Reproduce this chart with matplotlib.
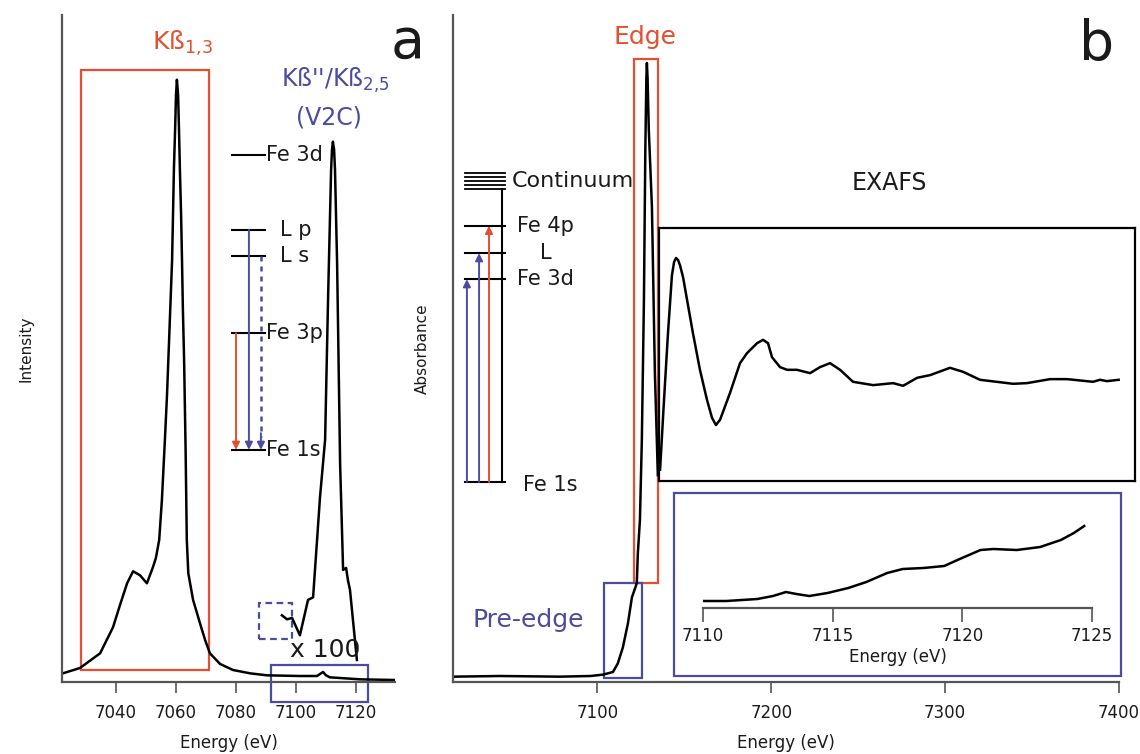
import numpy as np
import matplotlib.pyplot as plt
from matplotlib.patches import Rectangle

RED = '#e4502f'
BLUE = '#4b4b9f'
GREY = '#555555'
INK = '#1a1a1a'

# ---- panel a : K-beta emission (full scale) ----
kb_energy = [7022.3, 7028.0, 7034.7, 7039.0, 7041.3, 7043.7, 7045.7, 7048.0, 7050.3,
             7052.3, 7053.3, 7054.4, 7055.3, 7056.3, 7057.0, 7057.7, 7058.2, 7058.7,
             7059.0, 7059.3, 7059.7, 7060.0, 7060.3, 7060.7, 7061.0, 7061.3, 7061.7,
             7062.0, 7062.3, 7062.7, 7063.2, 7063.6, 7064.1, 7065.7, 7068.0, 7069.7,
             7071.3, 7074.7, 7079.0, 7084.7, 7090.3, 7101.3, 7107.0, 7108.0, 7109.0,
             7110.0, 7111.3, 7121.3, 7133.0]
kb_intensity = [0.013, 0.021, 0.043, 0.082, 0.115, 0.148, 0.166, 0.160, 0.148,
                0.172, 0.186, 0.213, 0.273, 0.363, 0.430, 0.513, 0.573, 0.633,
                0.700, 0.768, 0.828, 0.880, 0.903, 0.880, 0.828, 0.768, 0.700,
                0.633, 0.558, 0.483, 0.348, 0.213, 0.163, 0.123, 0.088, 0.063,
                0.043, 0.027, 0.018, 0.013, 0.010, 0.009, 0.009, 0.012, 0.015,
                0.010, 0.007, 0.004, 0.003]

# valence-to-core region, x 100
v2c_energy = [7095.3, 7097.0, 7098.7, 7101.3, 7104.0, 7105.7, 7108.0, 7109.7, 7110.7,
              7111.7, 7112.0, 7112.3, 7112.7, 7113.0, 7113.7, 7114.7, 7115.7, 7116.7,
              7117.3, 7118.0, 7120.3]
v2c_intensity = [0.100, 0.094, 0.096, 0.070, 0.123, 0.127, 0.277, 0.363, 0.577,
                 0.768, 0.798, 0.810, 0.798, 0.768, 0.628, 0.328, 0.168, 0.171,
                 0.153, 0.138, 0.033]

# level diagram (emission)
xes_levels = ['Fe 3d', 'L p', 'L s', 'Fe 3p', 'Fe 1s']
xes_level_y = [0.790, 0.678, 0.639, 0.523, 0.348]

# ---- panel b : Fe K-edge absorption ----
xas_energy = [7017.0, 7044.0, 7078.5, 7096.0, 7103.2, 7109.0, 7111.8, 7114.7, 7117.6,
              7119.9, 7122.7, 7123.3, 7124.5, 7125.6, 7126.8, 7127.6, 7128.2, 7128.5,
              7128.9, 7129.6, 7131.4, 7133.1, 7134.8]
xas_absorbance = [0.008, 0.009, 0.008, 0.009, 0.011, 0.015, 0.028, 0.052, 0.088,
                  0.127, 0.148, 0.193, 0.243, 0.363, 0.573, 0.798, 0.905, 0.928,
                  0.905, 0.828, 0.712, 0.463, 0.310]

exafs_energy = [7135.6, 7137.8, 7140.0, 7142.2, 7143.4, 7144.5, 7145.6, 7146.7, 7148.4,
                7153.9, 7157.8, 7161.7, 7164.5, 7166.7, 7169.0, 7174.5, 7180.1, 7184.0,
                7189.6, 7192.9, 7195.7, 7197.9, 7202.4, 7206.3, 7211.8, 7219.1, 7224.6,
                7230.2, 7235.8, 7243.0, 7254.2, 7265.3, 7270.9, 7278.7, 7285.9, 7297.0,
                7304.3, 7313.7, 7332.1, 7339.9, 7352.7, 7362.2, 7376.6, 7380.5, 7384.4,
                7390.9]
exafs_absorbance = [0.318, 0.423, 0.523, 0.610, 0.630, 0.636, 0.633, 0.625, 0.607,
                    0.523, 0.468, 0.423, 0.396, 0.385, 0.393, 0.433, 0.478, 0.493,
                    0.508, 0.513, 0.508, 0.487, 0.472, 0.468, 0.468, 0.463, 0.472,
                    0.478, 0.468, 0.450, 0.445, 0.448, 0.444, 0.456, 0.460, 0.471,
                    0.465, 0.453, 0.447, 0.448, 0.454, 0.454, 0.450, 0.453, 0.451,
                    0.453]

pre_energy = [7110.0, 7110.9, 7112.1, 7112.7, 7113.2, 7113.6, 7114.1, 7114.8, 7115.6,
              7116.3, 7117.1, 7117.7, 7118.5, 7119.3, 7119.9, 7120.7, 7121.2, 7122.1,
              7123.0, 7123.8, 7124.3, 7124.7]
pre_absorbance = [0.07, 0.07, 0.09, 0.12, 0.16, 0.14, 0.12, 0.15, 0.20,
                  0.26, 0.35, 0.39, 0.40, 0.42, 0.49, 0.58, 0.59, 0.58,
                  0.61, 0.68, 0.75, 0.82]

# level diagram (absorption)
xas_levels = ['Fe 4p', 'L', 'Fe 3d', 'Fe 1s']
xas_level_y = [0.684, 0.643, 0.604, 0.300]
continuum_y = [0.763, 0.757, 0.751, 0.745, 0.739]


def style_axis(ax):
    for s in ['top', 'right']:
        ax.spines[s].set_visible(False)
    for s in ['left', 'bottom']:
        ax.spines[s].set_color(GREY)
        ax.spines[s].set_linewidth(1.6)
    ax.set_yticks([])
    ax.tick_params(axis='x', direction='out', length=8, width=1.2, color=GREY,
                   labelsize=12, pad=8, labelcolor=INK)
    ax.set_facecolor('none')


def arrow(ax, x, y0, y1, color, ls='-'):
    # vertical transition arrow from y0 to y1
    if ls == '-':
        ax.annotate('', xy=(x, y1), xytext=(x, y0),
                    arrowprops=dict(arrowstyle='-|>', color=color, lw=1.4,
                                    mutation_scale=11, shrinkA=0, shrinkB=0))
    else:
        ax.plot([x, x], [y0, y1 + 0.02 * np.sign(y0 - y1)], color=color, lw=1.8, ls=ls)
        ax.annotate('', xy=(x, y1), xytext=(x, y1 + 0.025 * np.sign(y0 - y1)),
                    arrowprops=dict(arrowstyle='-|>', color=color, lw=1.4,
                                    mutation_scale=11, shrinkA=0, shrinkB=0))


fig = plt.figure(figsize=(11.4, 7.54), dpi=100)
plt.rcParams['font.family'] = ['DejaVu Sans']

# ================= panel a =================
ax1 = fig.add_axes([62/1140, 1-682/754, 333/1140, 667/754])
style_axis(ax1)
ax1.set_xlim(7022, 7133)
ax1.set_ylim(0, 1)
ax1.set_xticks([7040, 7060, 7080, 7100, 7120])
ax1.plot(kb_energy, kb_intensity, color='black', lw=1.8)
ax1.plot(v2c_energy, v2c_intensity, color='black', lw=1.8)

ax1.set_xlabel('Energy (eV)', fontsize=12, color=INK, va='top')
ax1.xaxis.set_label_coords(0.5, -0.078)
ax1.set_ylabel('Intensity', fontsize=11, color=INK)
ax1.yaxis.set_label_coords(-0.087, 0.5)

ax1.add_patch(Rectangle((7028.3, 0.018), 42.7, 0.900, fill=False, ec=RED, lw=1.6))
ax1.add_patch(Rectangle((7087.7, 0.064), 11.0, 0.054, fill=False, ec=BLUE, lw=1.6,
                        ls=(0, (3, 2))))
ax1.add_patch(Rectangle((7091.7, -0.030), 32.3, 0.0555, fill=False, ec=BLUE, lw=1.6,
                        clip_on=False))

ax1.text(7062, 0.9475, 'Kß$_{1{,}3}$', color=RED, fontsize=18, ha='center', va='baseline')
ax1.text(7113, 0.892, "Kß''/Kß$_{2{,}5}$", color=BLUE, fontsize=17, ha='center', va='baseline')
ax1.text(7111, 0.846, '(V2C)', color=BLUE, fontsize=17, ha='center', va='center')
ax1.text(7109.7, 0.0375, 'x 100', color=INK, fontsize=18, ha='center', va='baseline')

for name, y in zip(xes_levels, xes_level_y):
    ax1.plot([7078.7, 7089.7], [y, y], color='black', lw=1.5)
    if name.startswith('L'):
        ax1.text(7094.7, y, name, fontsize=15, ha='left', va='center', color=INK)
    else:
        ax1.text(7089.9, y, name, fontsize=15, ha='left', va='center', color=INK)

arrow(ax1, 7080.0, xes_level_y[3], xes_level_y[4], RED)
arrow(ax1, 7084.3, xes_level_y[1], xes_level_y[4], BLUE)
arrow(ax1, 7088.3, xes_level_y[2], xes_level_y[4], BLUE, ls=(0, (2, 2)))

fig.text(408/1140, 1-58/754, 'a', fontsize=40, ha='center', va='baseline', color=INK)

# ================= panel b =================
ax2 = fig.add_axes([453/1140, 1-682/754, 666/1140, 667/754])
style_axis(ax2)
ax2.set_xlim(7017, 7400)
ax2.set_ylim(0, 1)
ax2.set_xticks([7100, 7200, 7300, 7400])
ax2.plot(xas_energy, xas_absorbance, color='black', lw=1.8)

ax2.set_xlabel('Energy (eV)', fontsize=12, color=INK, va='top')
ax2.xaxis.set_label_coords(0.5, -0.078)
ax2.set_ylabel('Absorbance', fontsize=11, color=INK)
ax2.yaxis.set_label_coords(-0.035, 0.5)

ax2.add_patch(Rectangle((7121.0, 0.148), 13.8, 0.786, fill=False, ec=RED, lw=1.6))
ax2.add_patch(Rectangle((7103.8, 0.006), 21.8, 0.142, fill=False, ec=BLUE, lw=1.6))

ax2.text(7127.3, 0.967, 'Edge', color=RED, fontsize=18, ha='center', va='center')
ax2.text(7060.0, 0.093, 'Pre-edge', color=BLUE, fontsize=18, ha='center', va='center')
ax2.text(7268.0, 0.748, 'EXAFS', color=INK, fontsize=17, ha='center', va='center')

# level diagram
for y in continuum_y:
    ax2.plot([7023.9, 7046.9], [y, y], color='black', lw=1.3)
ax2.plot([7045.1, 7045.1], [continuum_y[-1], xas_level_y[-1]], color='black', lw=1.5)
ax2.text(7050.9, 0.751, 'Continuum', fontsize=16, ha='left', va='center', color=INK)
for name, y in zip(xas_levels, xas_level_y):
    ax2.plot([7023.9, 7047.0], [y, y], color='black', lw=1.5)
    if name == 'L':
        ax2.text(7070.4, y, name, fontsize=15, ha='center', va='center', color=INK)
    elif name == 'Fe 1s':
        ax2.text(7057.2, y - 0.004, name, fontsize=15, ha='left', va='center', color=INK)
    else:
        ax2.text(7053.8, y, name, fontsize=15, ha='left', va='center', color=INK)

arrow(ax2, 7025.0, xas_level_y[3], xas_level_y[2], BLUE)
arrow(ax2, 7032.0, xas_level_y[3], xas_level_y[1], BLUE)
arrow(ax2, 7037.7, xas_level_y[3], xas_level_y[0], RED)

fig.text(1097/1140, 1-60/754, 'b', fontsize=40, ha='center', va='baseline', color=INK)

# EXAFS inset
ax3 = fig.add_axes([659/1140, 1-481/754, 476/1140, 253/754])
ax3.set_facecolor('none')
ax3.set_xlim(7135, 7400)
ax3.set_ylim(0.301, 0.681)
ax3.set_xticks([])
ax3.set_yticks([])
for s in ax3.spines.values():
    s.set_color('black')
    s.set_linewidth(1.6)
ax3.plot(exafs_energy, exafs_absorbance, color='black', lw=1.8)

# pre-edge inset
fig.add_artist(Rectangle((674/1140, 1-676/754), 447/1140, 183/754, transform=fig.transFigure,
                         fill=False, ec=BLUE, lw=1.6))
ax4 = fig.add_axes([703/1140, 1-608/754, 389/1140, 100/754])
ax4.set_facecolor('none')
for s in ['top', 'right', 'left']:
    ax4.spines[s].set_visible(False)
ax4.spines['bottom'].set_color(GREY)
ax4.spines['bottom'].set_linewidth(1.6)
ax4.set_xlim(7110, 7125)
ax4.set_ylim(0, 1)
ax4.set_yticks([])
ax4.set_xticks([7110, 7115, 7120, 7125])
ax4.tick_params(axis='x', direction='out', length=10, width=1.2, color=GREY,
                labelsize=12, pad=4, labelcolor=INK)
ax4.plot(pre_energy, pre_absorbance, color='black', lw=1.8)
ax4.set_xlabel('Energy (eV)', fontsize=12, color=INK, va='top')
ax4.xaxis.set_label_coords(0.5, -0.40)

fig.savefig('out.png', dpi=100)
